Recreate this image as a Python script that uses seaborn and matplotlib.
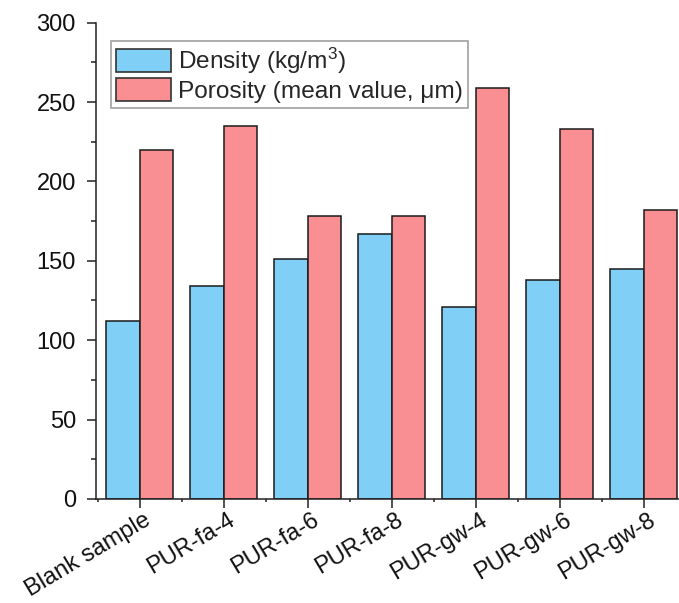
import matplotlib
matplotlib.use("Agg")
import matplotlib.pyplot as plt
import matplotlib.transforms as mtransforms
import seaborn as sns
import pandas as pd
from matplotlib.ticker import FixedLocator, MultipleLocator

samples = ["Blank sample", "PUR-fa-4", "PUR-fa-6", "PUR-fa-8", "PUR-gw-4", "PUR-gw-6", "PUR-gw-8"]
density = [112, 134, 151, 167, 121, 138, 145]
porosity = [220, 235, 178, 178, 259, 233, 182]
series_names = ["Density (kg/m$^3$)", "Porosity (mean value, μm)"]
colors = ["#80CFF7", "#F98F93"]

df = pd.DataFrame({
    "sample": samples * 2,
    "value": density + porosity,
    "series": [series_names[0]] * len(samples) + [series_names[1]] * len(samples),
})

sns.set_theme(style="ticks")
plt.rcParams["font.family"] = ["Liberation Sans", "DejaVu Sans"]
plt.rcParams["mathtext.fontset"] = "custom"
plt.rcParams["mathtext.rm"] = "Liberation Sans"
plt.rcParams["mathtext.it"] = "Liberation Sans:italic"

fig = plt.figure(figsize=(6.79, 6.03), dpi=100)
ax = fig.add_axes([0.1415, 0.1725, 0.8585, 0.790])

sns.barplot(data=df, x="sample", y="value", hue="series", palette=colors,
            saturation=1, edgecolor="#1a1a1a", linewidth=1.1, width=0.8, ax=ax)

ax.set_xlim(-0.517, 6.42)
ax.set_ylim(0, 300)
ax.set_xlabel("")
ax.set_ylabel("")
sns.despine(ax=ax, top=True, right=True)
for s in ["left", "bottom"]:
    ax.spines[s].set_linewidth(1.1)
    ax.spines[s].set_color("#222222")

ax.yaxis.set_major_locator(MultipleLocator(50))
ax.yaxis.set_minor_locator(MultipleLocator(25))
ax.xaxis.set_minor_locator(FixedLocator([i + 0.5 for i in range(-1, len(samples))]))
ax.tick_params(axis="both", which="major", direction="out", length=6.5, width=1.1,
               labelsize=17, color="#222222", labelcolor="#111111")
ax.tick_params(axis="y", which="minor", direction="out", length=3.5, width=1.1, color="#222222")
ax.tick_params(axis="x", which="minor", direction="out", length=2, width=1.1, color="#222222")
ax.tick_params(axis="y", pad=8)
ax.tick_params(axis="x", pad=0.5)
offset = mtransforms.ScaledTranslation(3 / 72, 0, fig.dpi_scale_trans)
for lab in ax.get_xticklabels():
    lab.set_rotation(31)
    lab.set_ha("right")
    lab.set_rotation_mode("anchor")
    lab.set_transform(lab.get_transform() + offset)

leg = ax.legend(loc="upper left", bbox_to_anchor=(0.025, 0.9615), fontsize=17.6,
                frameon=True, fancybox=False, edgecolor="#888888",
                handlelength=2.25, handleheight=1.05, labelspacing=0.08,
                borderpad=0.2, handletextpad=0.3, borderaxespad=0)
leg.get_frame().set_linewidth(1.2)
for h in leg.legend_handles:
    h.set_edgecolor("#333333")
    h.set_linewidth(1.2)

fig.savefig("out.png", dpi=100)
